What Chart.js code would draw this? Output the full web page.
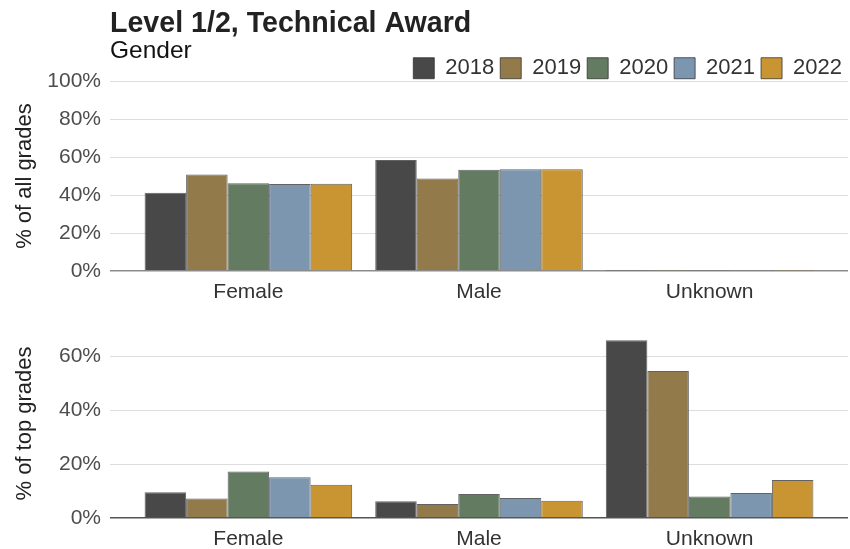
<!DOCTYPE html>
<html>
<head>
<meta charset="utf-8">
<title>Level 1/2, Technical Award</title>
<script src="https://cdn.jsdelivr.net/npm/chart.js@4.4.1/dist/chart.umd.min.js"></script>
<style>
  body { margin: 0; background: #fff; }
  #all-wrap { position: absolute; left: 0; top: 0; width: 850px; height: 305px; }
  #top-wrap { position: absolute; left: 0; top: 305px; width: 850px; height: 244px; }
</style>
</head>
<body>
<div id="all-wrap"><canvas id="allChart"></canvas></div>
<div id="top-wrap"><canvas id="topChart"></canvas></div>
<script>
const categories = ['Female', 'Male', 'Unknown'];
const years = ['2018', '2019', '2020', '2021', '2022'];
const yearColours = ['#484848', '#937a4a', '#627b61', '#7c96b0', '#c99532'];

// % of all grades (Female, Male, Unknown)
const allGrades2018 = [41.2, 58.5, 0.1];
const allGrades2019 = [50.9, 48.7, 0.1];
const allGrades2020 = [46.2, 53.4, 0.1];
const allGrades2021 = [45.9, 53.6, 0.1];
const allGrades2022 = [46.0, 53.6, 0.1];

// % of top grades (Female, Male, Unknown)
const topGrades2018 = [9.5, 6.2, 65.8];
const topGrades2019 = [7.2, 5.2, 54.4];
const topGrades2020 = [17.2, 8.9, 8.0];
const topGrades2021 = [15.1, 7.4, 9.3];
const topGrades2022 = [12.3, 6.4, 14.1];

const allTicks = [0, 20, 40, 60, 80, 100];
const topTicks = [0, 20, 40, 60];

const FONT = "'Liberation Sans', Arial, sans-serif";
Chart.defaults.font.family = FONT;

function makeDatasets(seriesList) {
  return seriesList.map((values, i) => ({
    label: years[i],
    data: values.map((v, j) => ({ x: j + 1, y: v })),
    backgroundColor: yearColours[i],
    borderColor: 'rgba(45, 45, 45, 0.75)',
    borderWidth: 1,
    categoryPercentage: 0.9,
    barPercentage: 1
  }));
}

// categories sit at 1,2,3 with ggplot style 0.6 padding each side
function xScale(height) {
  return {
    type: 'linear',
    min: 0.4,
    max: 3.6,
    offset: false,
    grid: { display: false, drawTicks: false, offset: false },
    border: { display: false },
    afterBuildTicks: scale => { scale.ticks = categories.map((c, i) => ({ value: i + 1 })); },
    ticks: {
      callback: v => categories[v - 1],
      font: { size: 21 },
      color: '#333',
      padding: 9,
      autoSkip: false,
      maxRotation: 0
    },
    afterFit: scale => { scale.height = height; }
  };
}

function yScale(max, tickValues, titleText, baseColour) {
  return {
    min: 0,
    max: max,
    afterBuildTicks: scale => { scale.ticks = tickValues.map(v => ({ value: v })); },
    grid: {
      drawTicks: false,
      color: ctx => (ctx.tick && ctx.tick.value === 0) ? baseColour : '#dddddd',
      lineWidth: ctx => (ctx.tick && ctx.tick.value === 0) ? 1.5 : 1
    },
    border: { display: false },
    ticks: {
      callback: v => v + '%',
      font: { size: 21 },
      color: '#4d4d4d',
      padding: 9
    },
    title: {
      display: true,
      text: titleText,
      font: { size: 22 },
      color: '#222',
      padding: { top: 12, bottom: 0 }
    },
    afterFit: scale => { scale.width = 110; }
  };
}

new Chart(document.getElementById('allChart'), {
  type: 'bar',
  data: {
    datasets: makeDatasets([allGrades2018, allGrades2019, allGrades2020, allGrades2021, allGrades2022])
  },
  options: {
    responsive: true,
    maintainAspectRatio: false,
    animation: false,
    layout: { padding: { left: 0, right: 2, top: 0, bottom: 0 } },
    scales: {
      x: xScale(34),
      y: yScale(100, allTicks, '% of all grades', '#8c8c8c')
    },
    plugins: {
      title: {
        display: true,
        text: 'Level 1/2, Technical Award',
        align: 'start',
        fullSize: false,
        color: '#222',
        font: { size: 28.6, weight: 'bold' },
        padding: { top: 7, bottom: 0 }
      },
      subtitle: {
        display: true,
        text: 'Gender',
        align: 'start',
        fullSize: false,
        color: '#111',
        font: { size: 24.5 },
        padding: { top: -5, bottom: -14.5 }
      },
      legend: {
        position: 'top',
        align: 'end',
        fullSize: false,
        maxHeight: 30,
        labels: {
          boxWidth: 21,
          boxHeight: 21,
          padding: 6,
          color: '#333',
          font: { size: 22 }
        }
      },
      tooltip: { enabled: false }
    }
  }
});

new Chart(document.getElementById('topChart'), {
  type: 'bar',
  data: {
    datasets: makeDatasets([topGrades2018, topGrades2019, topGrades2020, topGrades2021, topGrades2022])
  },
  options: {
    responsive: true,
    maintainAspectRatio: false,
    animation: false,
    layout: { padding: { left: 0, right: 2, top: 24, bottom: 0 } },
    scales: {
      x: xScale(31),
      y: yScale(70, topTicks, '% of top grades', '#555555')
    },
    plugins: {
      legend: { display: false },
      tooltip: { enabled: false }
    }
  }
});
</script>
</body>
</html>
